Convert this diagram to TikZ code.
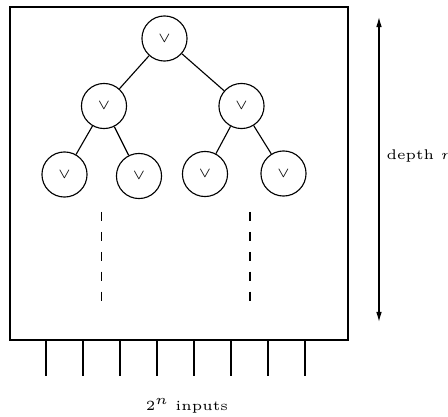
\documentclass[tikz,border=0pt]{standalone}
\usetikzlibrary{arrows.meta}
\begin{document}
\begin{tikzpicture}[x=0.357pt,y=-0.357pt,
  gate/.style={draw,circle,minimum size=16.1pt,inner sep=0pt,font=\tiny},
  dashline/.style={dash pattern=on 3.2pt off 3.9pt},
  lbl/.style={font=\tiny,inner sep=0pt}]
\useasboundingbox (0,0) rectangle (448,417);
\draw (10,7) rectangle (348,340);
% tree
\node[gate] (r) at (164.5,38.5) {$\vee$};
\node[gate] (l) at (104,106) {$\vee$};
\node[gate] (rt) at (241.5,106) {$\vee$};
\node[gate] (ll) at (64.5,174.5) {$\vee$};
\node[gate] (lr) at (139,176) {$\vee$};
\node[gate] (rl) at (205,174) {$\vee$};
\node[gate] (rr) at (283.5,173.5) {$\vee$};
\draw (r) -- (l);
\draw (r) -- (rt);
\draw (l) -- (ll);
\draw (l) -- (lr);
\draw (rt) -- (rl);
\draw (rt) -- (rr);
% dashed continuation
\coordinate (d1a) at (101.5,212);
\coordinate (d1b) at (101.5,302);
\coordinate (d2a) at (250,212);
\coordinate (d2b) at (250,302);
\draw[dashline] (d1a) -- (d1b);
\draw[dashline] (d2a) -- (d2b);
% inputs
\foreach \i/\x in {1/46,2/83,3/120,4/157,5/194,6/231,7/268,8/305}{
  \coordinate (ia\i) at (\x,340);
  \coordinate (ib\i) at (\x,376);
  \draw (ia\i) -- (ib\i);
}
\node[lbl] (inp) at (187,406) {$2^n$ inputs};
% depth arrow
\coordinate (at) at (379,17);
\coordinate (ab) at (379,322);
\draw[{Latex[length=3.6pt,width=2pt]}-{Latex[length=3.6pt,width=2pt]}] (at) -- (ab);
\node[lbl,anchor=west] (dep) at (386,156) {depth $n$};
\end{tikzpicture}
\end{document}
